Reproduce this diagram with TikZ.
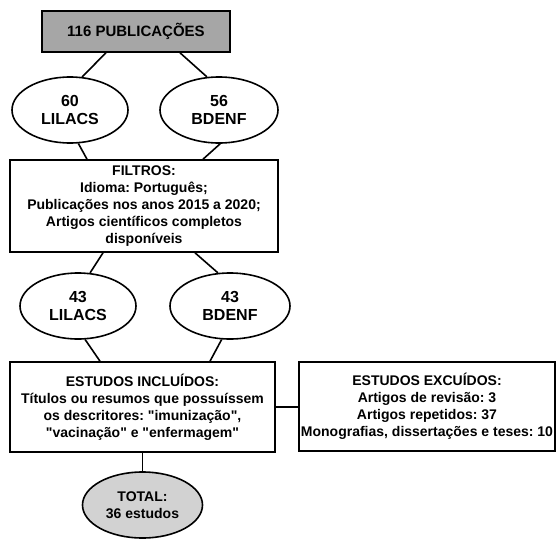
\documentclass[tikz,border=0pt]{standalone}
\usepackage{fontspec}
\setmainfont{Liberation Sans}[Ligatures=TeXReset]
\usetikzlibrary{shapes.geometric,calc}
\definecolor{topgray}{HTML}{A6A6A6}
\definecolor{totgray}{HTML}{D2D2D2}
\frenchspacing
\begin{document}
\begin{tikzpicture}[x=1pt,y=-1pt, line width=1.6pt,
  every node/.style={font=\fontsize{14}{17}\selectfont\bfseries, align=center, inner sep=0pt},
  boxnode/.style={draw, rectangle},
  ovalnode/.style={draw, ellipse, minimum width=116pt, minimum height=66pt},
  bigtext/.style={font=\fontsize{16}{18}\selectfont\bfseries}]
\useasboundingbox (0,0) rectangle (557,544);
\node[boxnode, fill=topgray, minimum width=188pt, minimum height=41pt, font=\fontsize{15}{17}\selectfont\bfseries] (top) at (136,31.5) {116 PUBLICAÇÕES};
\node[ovalnode, bigtext] (l1) at (70,110) {60\\LILACS};
\node[ovalnode, bigtext, minimum width=118pt] (r1) at (219,110) {56\\BDENF};
\node[boxnode, minimum width=268pt, minimum height=92pt] (filt) at (144,206)
  {FILTROS:\\Idioma: Português;\\Publicações nos anos 2015 a 2020;\\Artigos científicos completos\\disponíveis};
\node[ovalnode, bigtext] (l2) at (78,306) {43\\LILACS};
\node[ovalnode, bigtext, minimum width=120pt] (r2) at (230,306) {43\\BDENF};
\node[boxnode, minimum width=265pt, minimum height=90pt] (inc) at (142.5,407)
  {ESTUDOS INCLUÍDOS:\\Títulos ou resumos que possuíssem\\os descritores: "imunização",\\"vacinação" e "enfermagem"};
\node[boxnode, minimum width=256pt, minimum height=89pt] (exc) at (427,406.5)
  {ESTUDOS EXCUÍDOS:\\Artigos de revisão: 3\\Artigos repetidos: 37\\Monografias, dissertações e teses: 10};
\node[ovalnode, fill=totgray, minimum width=120pt] (tot) at (142.5,505) {TOTAL:\\36 estudos};
\draw ([xshift=-30pt]top.south) -- (l1.70);
\draw ([xshift=44pt]top.south) -- (r1.110);
\draw (l1.-76) -- ([xshift=-57pt]filt.north);
\draw (r1.-88) -- ([xshift=59pt]filt.north);
\draw ([xshift=-41pt]filt.south) -- (l2.70);
\draw ([xshift=51pt]filt.south) -- (r2.110);
\draw (l2.-78) -- ([xshift=-42.5pt]inc.north);
\draw (r2.-104) -- ([xshift=67.5pt]inc.north);
\draw (inc.east) -- (inc.east -| exc.west);
\draw (inc.south) -- (tot.north);
\end{tikzpicture}
\end{document}
